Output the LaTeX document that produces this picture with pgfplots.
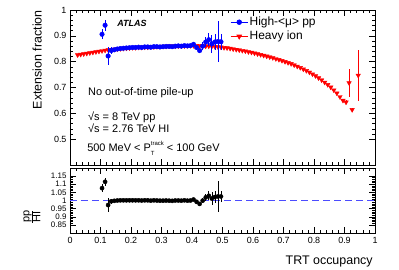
\documentclass[border=0pt]{standalone}
\usepackage{fontspec}
\setmainfont{Liberation Sans}
\usepackage{pgfplots}
\usepackage{pgfplotstable}
\pgfplotsset{compat=1.18}

\pgfplotstableread{
x y ey
0.025 0.826 0.003
0.035 0.828 0.003
0.045 0.830 0.003
0.055 0.832 0.003
0.065 0.834 0.003
0.075 0.836 0.003
0.085 0.838 0.003
0.095 0.840 0.003
0.105 0.842 0.003
0.115 0.844 0.003
0.125 0.846 0.003
0.135 0.847 0.003
0.145 0.848 0.003
0.155 0.849 0.003
0.165 0.850 0.003
0.175 0.851 0.003
0.185 0.852 0.003
0.195 0.853 0.003
0.205 0.854 0.003
0.215 0.854 0.003
0.225 0.855 0.003
0.235 0.855 0.003
0.245 0.856 0.003
0.255 0.856 0.003
0.265 0.857 0.003
0.275 0.857 0.003
0.285 0.858 0.003
0.295 0.858 0.003
0.305 0.859 0.003
0.315 0.859 0.003
0.325 0.860 0.003
0.335 0.860 0.003
0.345 0.860 0.003
0.355 0.861 0.003
0.365 0.861 0.003
0.375 0.861 0.003
0.385 0.862 0.003
0.395 0.862 0.003
0.405 0.862 0.003
0.415 0.862 0.003
0.425 0.861 0.003
0.435 0.861 0.003
0.445 0.860 0.003
0.455 0.860 0.003
0.465 0.859 0.003
0.475 0.858 0.003
0.485 0.857 0.003
0.495 0.856 0.003
0.505 0.854 0.003
0.515 0.853 0.003
0.525 0.851 0.003
0.535 0.849 0.003
0.545 0.847 0.003
0.555 0.845 0.003
0.565 0.843 0.003
0.575 0.841 0.003
0.585 0.838 0.003
0.595 0.836 0.003
0.605 0.833 0.003
0.615 0.830 0.003
0.625 0.827 0.003
0.635 0.824 0.003
0.645 0.821 0.003
0.655 0.818 0.003
0.665 0.815 0.003
0.675 0.811 0.003
0.685 0.808 0.003
0.695 0.804 0.003
0.705 0.800 0.003
0.715 0.796 0.003
0.725 0.792 0.003
0.735 0.787 0.003
0.745 0.782 0.003
0.755 0.777 0.003
0.765 0.771 0.003
0.775 0.765 0.003
0.785 0.759 0.003
0.795 0.752 0.003
0.805 0.745 0.003
0.815 0.737 0.003
0.825 0.729 0.003
0.835 0.720 0.003
0.845 0.711 0.003
0.855 0.701 0.003
0.865 0.690 0.004
0.875 0.678 0.004
0.885 0.664 0.005
0.895 0.650 0.006
0.905 0.643 0.007
0.915 0.718 0.055
0.925 0.614 0.008
0.945 0.747 0.100
}\heavyion

\pgfplotstableread{
x y ey
0.105 0.906 0.020
0.115 0.941 0.022
0.125 0.822 0.035
0.135 0.843 0.012
0.145 0.846 0.008
0.155 0.849 0.006
0.165 0.851 0.005
0.175 0.852 0.005
0.185 0.853 0.005
0.195 0.854 0.005
0.205 0.855 0.005
0.215 0.855 0.005
0.225 0.856 0.005
0.235 0.855 0.005
0.245 0.857 0.005
0.255 0.857 0.005
0.265 0.856 0.005
0.275 0.858 0.005
0.285 0.858 0.005
0.295 0.857 0.005
0.305 0.858 0.005
0.315 0.859 0.005
0.325 0.859 0.005
0.335 0.858 0.005
0.345 0.860 0.005
0.355 0.861 0.005
0.365 0.860 0.005
0.375 0.862 0.005
0.385 0.861 0.005
0.395 0.862 0.005
0.405 0.867 0.006
0.415 0.855 0.008
0.425 0.843 0.010
0.435 0.860 0.015
0.445 0.876 0.020
0.455 0.885 0.025
0.465 0.869 0.035
0.475 0.876 0.030
0.485 0.878 0.080
0.495 0.877 0.030
}\highmu

\pgfplotstableread{
x y ey
0.105 1.076 0.024
0.115 1.115 0.026
0.125 0.972 0.041
0.135 0.995 0.014
0.145 0.998 0.009
0.155 1.000 0.007
0.165 1.001 0.006
0.175 1.001 0.006
0.185 1.001 0.006
0.195 1.001 0.006
0.205 1.001 0.006
0.215 1.001 0.006
0.225 1.001 0.006
0.235 1.000 0.006
0.245 1.001 0.006
0.255 1.001 0.006
0.265 0.999 0.006
0.275 1.001 0.006
0.285 1.000 0.006
0.295 0.999 0.006
0.305 0.999 0.006
0.315 1.000 0.006
0.325 0.999 0.006
0.335 0.998 0.006
0.345 1.000 0.006
0.355 1.000 0.006
0.365 0.999 0.006
0.375 1.001 0.006
0.385 0.999 0.006
0.395 1.000 0.006
0.405 1.006 0.007
0.415 0.992 0.009
0.425 0.979 0.012
0.435 0.999 0.017
0.445 1.019 0.023
0.455 1.029 0.029
0.465 1.012 0.041
0.475 1.021 0.035
0.485 1.025 0.093
0.495 1.025 0.035
}\ratio

\begin{document}
\begin{tikzpicture}
\path[use as bounding box] (-70bp,-37bp) rectangle (329bp,233bp);
\pgfplotsset{
  every axis/.append style={
    scale only axis, width=305bp, xmin=0, xmax=1,
    tick align=inside, major tick length=6bp, minor tick length=3bp,
    minor tick num=4, axis line style={line width=0.8pt},
    every tick/.style={black, line width=0.5pt},
    xtick={0,0.1,...,1.0},
    /pgf/number format/assume math mode=true,
    /pgf/number format/fixed,
    tick label style={font=\fontsize{9}{10}\selectfont},
    xtick pos=both, ytick pos=both,
    clip mode=individual,
  },
}
% lower ratio panel
\begin{axis}[
  at={(0,0)}, anchor=south west, height=65bp,
  ymin=0.8, ymax=1.2,
  ytick={0.85,0.9,0.95,1,1.05,1.1,1.15},
  yticklabel style={font=\fontsize{8}{9}\selectfont},
  xticklabel style={yshift=-1bp},
]
\addplot[blue!70, line width=0.8pt, dash pattern=on 7bp off 4bp] coordinates {(0,1) (1,1)};
\addplot[only marks, black, mark=*, mark size=2.1bp,
  error bars/.cd, y dir=both, y explicit, error bar style={line width=0.6pt}, error mark=none]
  table[x=x, y=y, y error=ey] {\ratio};
\node[rotate=90, anchor=center, font=\fontsize{11}{12}\selectfont, inner sep=0pt]
  at (rel axis cs:-0.125,0.25) {$\frac{\hbox{pp}}{\hbox{HI}}$};
\node[anchor=east, font=\fontsize{12.5}{13}\selectfont, inner sep=0pt]
  at (rel axis cs:0.993,-0.446) {TRT occupancy};
\end{axis}
% upper panel
\begin{axis}[
  at={(0,68bp)}, anchor=south west, height=155bp,
  ymin=0.4, ymax=1.0,
  ytick={0.5,0.6,...,1.0},
  xticklabels={},
  legend style={at={(rel axis cs:0.525,0.965)}, anchor=north west, draw=none, fill=none,
    font=\fontsize{12}{13}\selectfont, inner sep=0pt, row sep=1bp,
    nodes={inner sep=1.5bp}},
  legend cell align=left,
]
\addlegendimage{blue, line width=0.8pt, mark=*, mark size=2.3bp}
\addlegendentry{High-<μ> pp}
\addlegendimage{red, line width=0.8pt, mark=triangle*, mark size=2.6bp, mark options={rotate=180}}
\addlegendentry{Heavy ion}
\addplot[forget plot, only marks, red, mark=triangle*, mark size=2.6bp, mark options={rotate=180},
  error bars/.cd, y dir=both, y explicit, error bar style={line width=0.7pt}, error mark=none]
  table[x=x, y=y, y error=ey] {\heavyion};
\addplot[forget plot, only marks, blue, mark=*, mark size=2.3bp,
  error bars/.cd, y dir=both, y explicit, error bar style={line width=0.7pt}, error mark=none]
  table[x=x, y=y, y error=ey] {\highmu};
\node[font=\fontsize{9}{10}\selectfont\bfseries\itshape, inner sep=0pt] at (axis cs:0.203,0.950) {ATLAS};
\node[anchor=west, font=\fontsize{11}{12}\selectfont, inner sep=0pt] at (axis cs:0.059,0.679) {No out-of-time pile-up};
\node[anchor=west, font=\fontsize{11}{12}\selectfont, inner sep=0pt] at (axis cs:0.059,0.586) {√s = 8 TeV pp};
\node[anchor=west, font=\fontsize{11}{12}\selectfont, inner sep=0pt] at (axis cs:0.059,0.541) {√s = 2.76 TeV HI};
\node[anchor=west, font=\fontsize{11}{12}\selectfont, inner sep=0pt] at (axis cs:0.056,0.465)
  {500 MeV < P\rlap{\raisebox{-0.7ex}{\fontsize{6}{6}\selectfont T}}\raisebox{1.0ex}{\fontsize{6}{6}\selectfont track} < 100 GeV};
\node[rotate=90, anchor=east, font=\fontsize{12.5}{13}\selectfont, inner sep=0pt]
  at (rel axis cs:-0.108,1) {Extension fraction};
\end{axis}
\end{tikzpicture}
\end{document}
